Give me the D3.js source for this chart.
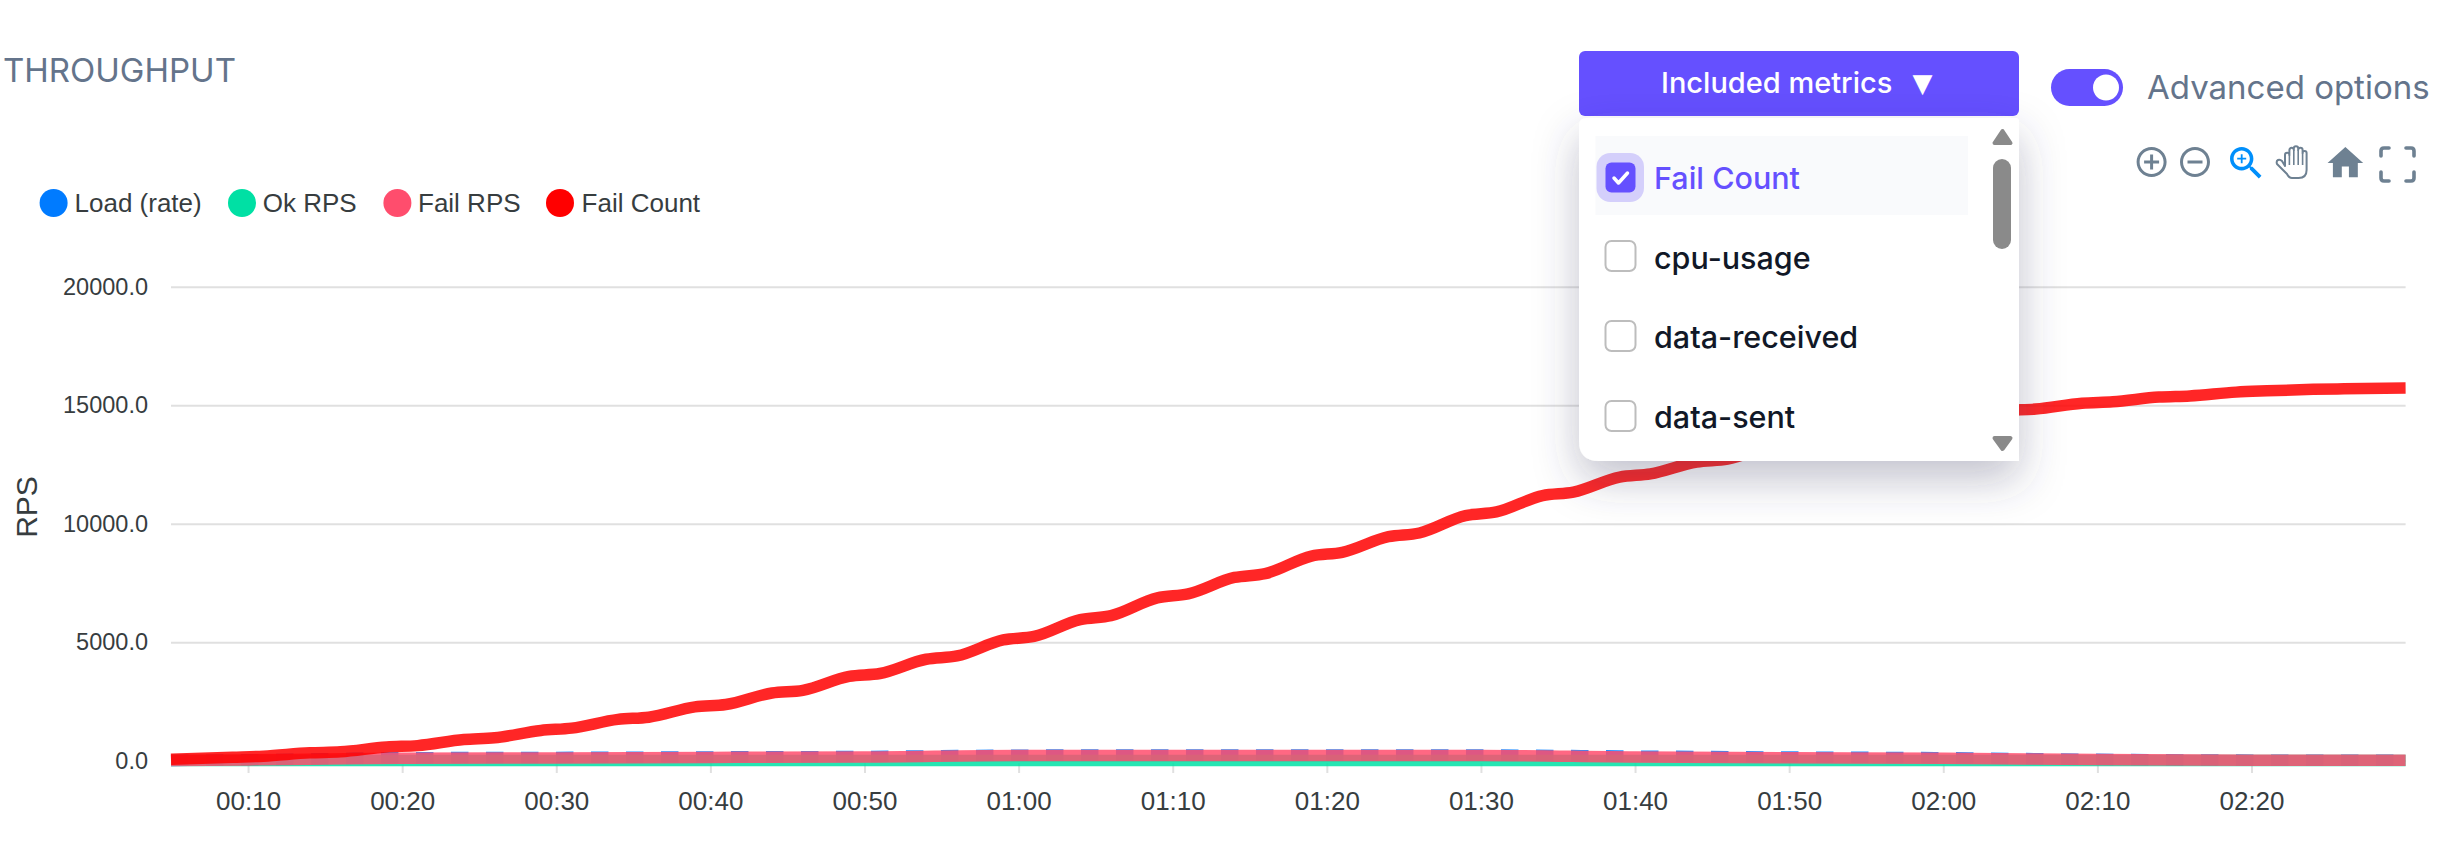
<!DOCTYPE html>
<html><head><meta charset="utf-8">
<script src="https://cdn.jsdelivr.net/npm/d3@7/dist/d3.min.js"></script>
<style>html,body{margin:0;padding:0;background:#fff;overflow:hidden}svg{display:block}</style>
</head><body><svg id="c" width="2442" height="846"></svg>
<script>
const seriesNames = ["Load (rate)", "Ok RPS", "Fail RPS", "Fail Count"];
const seriesColors = ["#007BFF", "#00E0A4", "#FF4D6D", "#FF0000"];
const yTicks = [0, 5000, 10000, 15000, 20000];
const xTicks = [10,20,30,40,50,60,70,80,90,100,110,120,130,140];
const menuItems = ["Fail Count", "cpu-usage", "data-received", "data-sent"];

const rateTimes = [5,10,15,20,30,40,50,60,70,80,90,100,110,120,130,140,150];
const loadValues = [5,35,80,120,135,155,175,230,235,235,235,190,150,120,55,20,15];
const okValues   = [0,0,0,0,0,0,0,0,0,0,0,0,0,0,0,0,0];
const failRpsValues = [5,30,70,100,115,135,150,215,215,215,215,150,120,100,45,10,10];

const countTimes = [5,9,11,14,16,19,21,24,26,29,31,34,36,39,41,44,46,49,51,54,56,59,61,64,66,69,71,74,76,79,81,84,86,89,91,94,96,99,101,104,106,109,111,114,116,119,121,124,126,129,131,134,136,139,141,144,146,150];
const failCountValues = [55,142,188,328,372,575,632,888,962,1274,1370,1740,1832,2268,2368,2853,2967,3555,3675,4277,4415,5090,5240,5952,6118,6867,7035,7728,7888,8634,8790,9449,9605,10336,10492,11185,11332,11962,12100,12600,12720,13298,13402,13905,13995,14405,14495,14776,14836,15084,15144,15344,15392,15551,15605,15668,15692,15722];

const svg = d3.select("#c");
const INTER = "Inter, 'Noto Sans', sans-serif", ARIAL = "'Liberation Sans', Arial, sans-serif";
const x = d3.scaleLinear().domain([5,150]).range([171,2405.6]);
const y = d3.scaleLinear().domain([0,20000]).range([760.6,286.7]);

const defs = svg.append("defs");
const f = defs.append("filter").attr("id","sh").attr("x","-30%").attr("y","-30%").attr("width","160%").attr("height","170%");
f.append("feDropShadow").attr("dx",0).attr("dy",18).attr("stdDeviation",22).attr("flood-color","#3a4060").attr("flood-opacity",.32);

// title
svg.append("text").attr("x",3).attr("y",82).attr("font-family",INTER).attr("font-size",33).attr("fill","#64748b").text("THROUGHPUT");

// legend
const legendCx = [53.6,242,397.4,560], legendTx = [74.5,262.7,418,581.6];
seriesNames.forEach((n,i)=>{
  svg.append("circle").attr("cx",legendCx[i]).attr("cy",203).attr("r",14).attr("fill",seriesColors[i]);
  svg.append("text").attr("x",legendTx[i]).attr("y",203).attr("dy",".36em").attr("font-family",ARIAL).attr("font-size",26).attr("fill","#373d3f").text(n);
});

// axes
const gy = svg.append("g").attr("transform","translate(171,0)")
  .call(d3.axisLeft(y).tickValues(yTicks).tickSize(-(2405.6-171)).tickPadding(23).tickFormat(d3.format(".1f")));
gy.select(".domain").remove();
gy.selectAll("line").attr("stroke","#e0e0e0").attr("stroke-width",2);
gy.selectAll("text").attr("font-family",ARIAL).attr("font-size",23.5).attr("fill","#373d3f");
const gx = svg.append("g").attr("transform","translate(0,763)")
  .call(d3.axisBottom(x).tickValues(xTicks).tickSize(10).tickPadding(19)
    .tickFormat(d=>String(Math.floor(d/60)).padStart(2,"0")+":"+String(d%60).padStart(2,"0")));
gx.select(".domain").remove();
gx.selectAll("line").attr("stroke","#e0e0e0").attr("stroke-width",2);
gx.selectAll("text").attr("font-family",ARIAL).attr("font-size",26).attr("fill","#373d3f");
svg.append("text").attr("transform","translate(37,507) rotate(-90)").attr("text-anchor","middle")
  .attr("font-family",ARIAL).attr("font-size",30).attr("fill","#373d3f").text("RPS");

// series
const line = d3.line().x(d=>x(d[0])).y(d=>y(d[1])).curve(d3.curveMonotoneX);
const draw = (t,v,c,dash)=>svg.append("path").datum(t.map((d,i)=>[d,v[i]])).attr("d",line)
  .attr("fill","none").attr("stroke",c).attr("stroke-width",11.5).attr("stroke-opacity",.85).attr("stroke-dasharray",dash||null);
draw(rateTimes,loadValues,seriesColors[0],"17.5 17.5");
draw(rateTimes,okValues,seriesColors[1]);
draw(rateTimes,failRpsValues,seriesColors[2]);
draw(countTimes,failCountValues,seriesColors[3]);

// button
const PURPLE = "#6550FF";
svg.append("rect").attr("x",1579).attr("y",51).attr("width",440).attr("height",65).attr("rx",6).attr("fill",PURPLE);
svg.append("text").attr("x",1661).attr("y",83).attr("dy",".36em").attr("font-family",INTER).attr("font-weight",500).attr("font-size",29).attr("fill","#fff").text("Included metrics");
svg.append("text").attr("x",1922.5).attr("y",83).attr("dy",".36em").attr("text-anchor","middle").attr("font-family","'DejaVu Sans'").attr("font-size",26).attr("fill","#fff").text("▼");

// toggle
svg.append("rect").attr("x",2051).attr("y",69).attr("width",72).attr("height",37).attr("rx",18.5).attr("fill",PURPLE);
svg.append("circle").attr("cx",2106).attr("cy",87.5).attr("r",13).attr("fill","#fff");
svg.append("text").attr("x",2147).attr("y",87).attr("dy",".36em").attr("font-family",INTER).attr("font-size",33).attr("fill","#64748b").text("Advanced options");

// toolbar
const GREY="#6e8192";
const icon=(d,ox,oy,s,c)=>svg.append("path").attr("d",d).attr("transform",`translate(${ox},${oy}) scale(${s})`).attr("fill",c);
icon("M13 7h-2v4H7v2h4v4h2v-4h4v-2h-4V7zm-1-5C6.48 2 2 6.48 2 12s4.48 10 10 10 10-4.48 10-10S17.52 2 12 2zm0 18c-4.41 0-8-3.59-8-8s3.59-8 8-8 8 3.59 8 8-3.59 8-8 8z",2133.6,144,1.5,GREY);
icon("M7 11v2h10v-2H7zm5-9C6.48 2 2 6.48 2 12s4.48 10 10 10 10-4.48 10-10S17.52 2 12 2zm0 18c-4.41 0-8-3.59-8-8s3.59-8 8-8 8 3.59 8 8-3.59 8-8 8z",2177,144,1.5,GREY);
icon("M15.5 14h-.79l-.28-.27C15.41 12.59 16 11.11 16 9.5 16 5.91 13.09 3 9.5 3S3 5.91 3 9.5 5.91 16 9.5 16c1.61 0 3.09-.59 4.23-1.57l.27.28v.79l5 4.99L20.49 19l-4.99-5zm-6 0C7.01 14 5 11.99 5 9.5S7.01 5 9.5 5 14 7.01 14 9.5 11.99 14 9.5 14zM12 10h-2v2H9v-2H7V9h2V7h1v2h2v1z",2224.6,141.6,1.8,"#008ffb");
svg.append("path").attr("fill","#fff").attr("stroke",GREY).attr("stroke-width",2).attr("stroke-linejoin","round")
  .attr("d","M2285 166V155a2.2 2.2 0 0 1 4.4 0V150a2.2 2.2 0 0 1 4.4 0V148.5a2.2 2.2 0 0 1 4.4 0V150a2.2 2.2 0 0 1 4.4 0V153a2 2 0 0 1 4 0V170q0 8-8 8H2292q-3 0-5-4L2277 164q-1-3 1-4 2-1 4 1z");
svg.append("path").attr("fill","none").attr("stroke",GREY).attr("stroke-width",1.6)
  .attr("d","M2289.4 155V165M2293.8 150V165M2298.2 150V165M2302.6 153V165");
icon("M10 20v-6h4v6h5v-8h3L12 3 2 12h3v8z",2324,141.6,1.78,GREY);
svg.append("path").attr("fill","none").attr("stroke",GREY).attr("stroke-width",3.6).attr("stroke-linecap","round")
  .attr("d","M2381 156V151q0-3 3-3h5M2406 148h5q3 0 3 3v5M2414 172v6q0 3-3 3h-5M2389 181h-5q-3 0-3-3v-6");

// dropdown panel
const dd=d3.path(), L=1579,T=118,R=2019,B=461,r1=8,r2=20;
dd.moveTo(L+r1,T); dd.lineTo(R-2,T); dd.lineTo(R,T+2); dd.lineTo(R,B); dd.lineTo(L+r2,B);
dd.quadraticCurveTo(L,B,L,B-r2); dd.lineTo(L,T+r1); dd.quadraticCurveTo(L,T,L+r1,T); dd.closePath();
svg.append("path").attr("d",dd.toString()).attr("fill","#fff").attr("filter","url(#sh)");
svg.append("rect").attr("x",1595.5).attr("y",136).attr("width",372.5).attr("height",79).attr("fill","#f9fafc");
svg.append("rect").attr("x",1596.5).attr("y",153).attr("width",47.5).attr("height",49).attr("rx",14).attr("fill","#d4cffb");
const rowY=[178,258,337,417], boxY=[177.5,256,336,416];
menuItems.forEach((m,i)=>{
  svg.append("text").attr("x",1654).attr("y",rowY[i]).attr("dy",".36em").attr("font-family",INTER).attr("font-weight",500)
    .attr("font-size",30.5).attr("fill",i===0?PURPLE:"#111827").text(m);
  const b=svg.append("rect").attr("x",1605.5).attr("y",boxY[i]-15).attr("width",30).attr("height",30).attr("rx",6);
  if(i===0) b.attr("fill",PURPLE); else b.attr("fill","#fff").attr("stroke","#bdbdbd").attr("stroke-width",2);
});
svg.append("path").attr("d","M1614 178l4.5 5 9-10").attr("fill","none").attr("stroke","#fff").attr("stroke-width",3.5).attr("stroke-linecap","round").attr("stroke-linejoin","round");
// scrollbar
const tri=(d)=>svg.append("path").attr("d",d).attr("fill","#8a8a8a").attr("stroke","#8a8a8a").attr("stroke-width",4).attr("stroke-linejoin","round");
tri("M2002.5 131L2010.5 143H1994.5Z");
tri("M2002.5 449L2010.5 438H1994.5Z");
svg.append("rect").attr("x",1993).attr("y",159).attr("width",18).attr("height",90).attr("rx",9).attr("fill","#8a8a8a");
</script></body></html>
